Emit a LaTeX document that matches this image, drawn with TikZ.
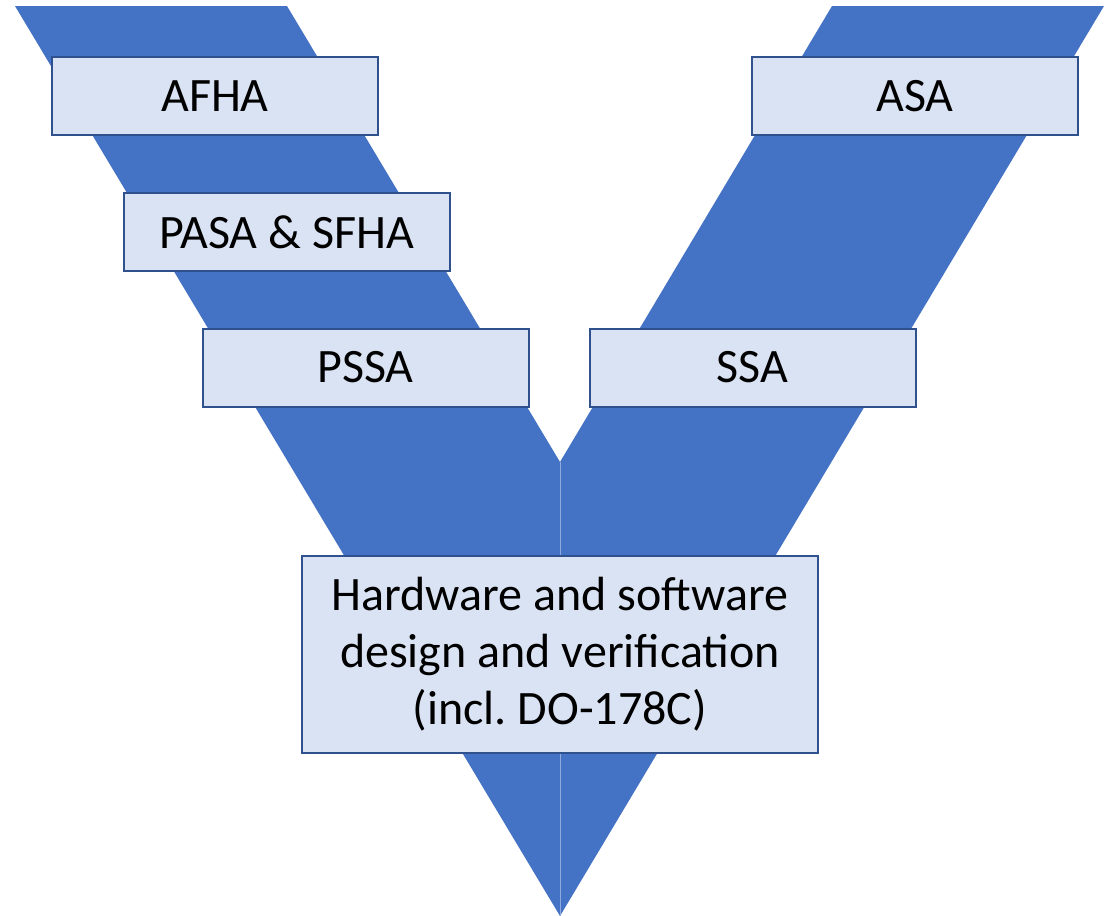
\documentclass[tikz,border=0pt]{standalone}
\usepackage{fontspec}
\setmainfont{Carlito}
\definecolor{vblue}{HTML}{4472C4}
\definecolor{boxfill}{HTML}{DAE3F3}
\definecolor{boxline}{HTML}{2F528F}

\begin{document}
\begin{tikzpicture}[x=0.5pt, y=-0.5pt,
  every node/.style={font=\fontsize{24}{28.5}\selectfont},
  phase/.style={draw=boxline, line width=1pt, fill=boxfill,
    minimum width=163pt, minimum height=39pt, inner sep=0pt}]
  \useasboundingbox (0,0) rectangle (1109,916);

  % corners of the V
  \coordinate (LO) at (15,6);
  \coordinate (LI) at (287,6);
  \coordinate (RI) at (832,6);
  \coordinate (RO) at (1104,6);
  \coordinate (V) at (560,462);
  \coordinate (B) at (560,916);

  % the two arms
  \fill[vblue] (LO) -- (LI) -- (V) -- (B) -- cycle;
  \fill[vblue] (RI) -- (RO) -- (B) -- (V) -- cycle;
  \draw[vblue!60!white, line width=0.5pt] (V) -- (B);

  % left side
  \node[phase] (afha) at (215,96) {AFHA};
  \node[phase] (pasa) at (286.5,232) {PASA \& SFHA};
  \node[phase] (pssa) at (365.5,367.5) {PSSA};

  % right side
  \node[phase] (asa) at (915,96) {ASA};
  \node[phase] (ssa) at (752.5,367.5) {SSA};

  % bottom
  \node[phase, minimum width=258pt, minimum height=98.5pt, align=center] (hw) at (560,654.5)
    {Hardware and software\\design and verification\\(incl.\ DO-178C)};
\end{tikzpicture}
\end{document}
